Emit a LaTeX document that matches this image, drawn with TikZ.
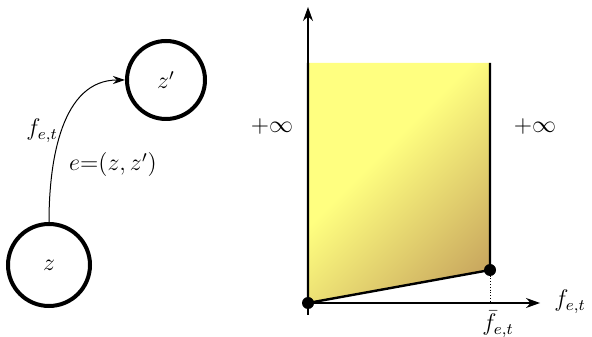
\documentclass[tikz,border=0pt]{standalone}
\usepackage{amsmath}
\usepackage{tikz}
\usetikzlibrary{arrows.meta,positioning,calc}
\definecolor{regyellow}{RGB}{255,255,128}
\definecolor{regbrown}{RGB}{190,150,88}
\pgfdeclarehorizontalshading{regshade}{100bp}{color(0bp)=(regyellow); color(42bp)=(regyellow); color(86bp)=(regbrown); color(100bp)=(regbrown)}

\begin{document}
\begin{tikzpicture}[x=0.5pt,y=0.5pt,font=\large,
  state/.style={draw,circle,line width=2pt,inner sep=0pt},
  bound/.style={line width=1.2pt},
  axis/.style={line width=0.6pt,-{Stealth[length=7pt,width=5pt]}},
  pt/.style={circle,fill=black,inner sep=0pt,minimum size=6pt}]
  \useasboundingbox (0,0) rectangle (592,336);
  % graph with one edge
  \node[state,minimum size=39pt] (zp) at (166,256) {$z'$};
  \node[state,minimum size=41pt] (z) at (49,71) {$z$};
  \draw[line width=0.5pt,-{Stealth[length=6pt,width=4pt]}] (z.north) to[out=90,in=180] (zp.west);
  \node (flow) at (42,205) {$f_{e,t}$};
  \node (edge) at (113,171) {$e\mathbf{=}(z,z')$};
  % cost region
  \coordinate (O) at (308,33);
  \coordinate (ytop) at (308,329);
  \coordinate (xend) at (540,33);
  \coordinate (cap) at (490,66);
  \coordinate (tl) at (308,273);
  \coordinate (tr) at (490,273);
  \shade[shading=regshade,shading angle=-45]
    (O) -- (tl) -- (tr) -- (cap) -- cycle;
  \draw[axis] ($(O)+(0,-12)$) -- (ytop);
  \draw[axis] ($(O)+(-5,0)$) -- (xend);
  \draw[bound] (tl) -- (O) -- (cap) -- (tr);
  \draw[densely dotted,line width=0.4pt] (cap) -- (cap|-O);
  \node[pt] (p0) at (O) {};
  \node[pt] (p1) at (cap) {};
  \node (infl) at (272,209) {$+\infty$};
  \node (infr) at (535,209) {$+\infty$};
  \node (xlab) at (570,34) {$f_{e,t}$};
  \node[inner sep=1pt] (caplab) at (498,12) {$\bar{f}_{e,t}$};
\end{tikzpicture}
\end{document}
